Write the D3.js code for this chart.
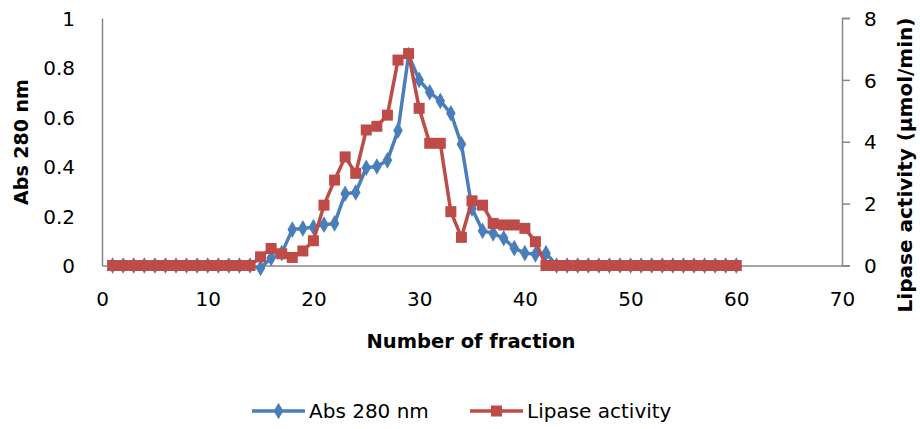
<!DOCTYPE html>
<html>
<head>
<meta charset="utf-8">
<script src="https://cdn.jsdelivr.net/npm/d3@7"></script>
<style>
  body { margin: 0; background: #fff; }
  text { font-family: "DejaVu Sans", sans-serif; fill: #000; }
</style>
</head>
<body>
<div id="chart"></div>
<script>
// Fracciones y series
const fractions = [1,2,3,4,5,6,7,8,9,10,11,12,13,14,15,16,17,18,19,20,
  21,22,23,24,25,26,27,28,29,30,31,32,33,34,35,36,37,38,39,40,
  41,42,43,44,45,46,47,48,49,50,51,52,53,54,55,56,57,58,59,60];

const abs280 = [0,0,0,0,0,0,0,0,0,0,0,0,0,0,-0.01,0.03,0.05,0.145,0.15,0.155,
  0.165,0.17,0.29,0.295,0.395,0.40,0.425,0.545,0.85,0.75,0.70,0.665,0.615,0.49,0.23,0.14,0.13,0.11,0.07,0.05,
  0.045,0.05,0,0,0,0,0,0,0,0,0,0,0,0,0,0,0,0,0,0];

const lipase = [0,0,0,0,0,0,0,0,0,0,0,0,0,0,0.28,0.55,0.38,0.26,0.47,0.8,
  1.95,2.76,3.51,2.98,4.38,4.5,4.86,6.64,6.85,5.08,3.95,3.95,1.74,0.91,2.09,1.95,1.36,1.31,1.31,1.2,
  0.77,0,0,0,0,0,0,0,0,0,0,0,0,0,0,0,0,0,0,0];

const xTicks = [0,10,20,30,40,50,60,70];
const yLeftTicks = [0,0.2,0.4,0.6,0.8,1];
const yRightTicks = [0,2,4,6,8];
const seriesNames = ["Abs 280 nm", "Lipase activity"];

const width = 920, height = 429;
const mLeft = 102, mRight = 842, mTop = 18, mBottom = 265.5;
const blue = "#4A7EBB", red = "#BE4B48", grey = "#868686";
const sq = 11, diamondArea = 80;

const x = d3.scaleLinear().domain([0, 70]).range([mLeft, mRight]);
const yL = d3.scaleLinear().domain([0, 1]).range([mBottom, mTop]);
const yR = d3.scaleLinear().domain([0, 8]).range([mBottom, mTop]);

const svg = d3.select("#chart").append("svg")
  .attr("width", width).attr("height", height);

// Ejes
const axL = svg.append("g").attr("transform", `translate(${mLeft},0)`)
  .call(d3.axisLeft(yL).tickValues(yLeftTicks).tickSize(0).tickPadding(27)
    .tickFormat(d => String(+d.toFixed(1))));
const axB = svg.append("g").attr("transform", `translate(0,${mBottom})`)
  .call(d3.axisBottom(x).tickValues(xTicks).tickSize(0).tickPadding(26));
const axR = svg.append("g").attr("transform", `translate(${mRight},0)`)
  .call(d3.axisRight(yR).tickValues(yRightTicks).tickSize(8).tickPadding(14));

[axL, axB, axR].forEach(g => {
  g.select(".domain").attr("stroke", grey).attr("stroke-width", 1.5);
  g.selectAll(".tick line").attr("stroke", grey).attr("stroke-width", 1.5);
  g.selectAll("text").attr("font-family", "DejaVu Sans").attr("font-size", 20).attr("fill", "#000");
});
axL.selectAll("text").attr("dy", "0.36em");
axR.selectAll("text").attr("dy", "0.36em");

// Series
const ptsA = fractions.map((f, i) => [f, abs280[i]]);
const ptsL = fractions.map((f, i) => [f, lipase[i]]);

svg.append("path").datum(ptsA)
  .attr("fill", "none").attr("stroke", blue).attr("stroke-width", 3.5)
  .attr("stroke-linejoin", "round")
  .attr("d", d3.line().x(d => x(d[0])).y(d => yL(d[1])));
svg.append("g").selectAll("path").data(ptsA).enter().append("path")
  .attr("d", d3.symbol(d3.symbolDiamond, diamondArea)())
  .attr("transform", d => `translate(${x(d[0])},${yL(d[1])})`)
  .attr("fill", blue);

svg.append("path").datum(ptsL)
  .attr("fill", "none").attr("stroke", red).attr("stroke-width", 3.5)
  .attr("stroke-linejoin", "round")
  .attr("d", d3.line().x(d => x(d[0])).y(d => yR(d[1])));
svg.append("g").selectAll("rect").data(ptsL).enter().append("rect")
  .attr("x", d => x(d[0]) - sq / 2).attr("y", d => yR(d[1]) - sq / 2)
  .attr("width", sq).attr("height", sq)
  .attr("fill", red);

// Titulos de ejes
svg.append("text")
  .attr("x", 471).attr("y", 348)
  .attr("text-anchor", "middle").attr("font-weight", "bold").attr("font-size", 19.5)
  .text("Number of fraction");

svg.append("text")
  .attr("transform", "translate(28,142) rotate(-90)")
  .attr("text-anchor", "middle").attr("font-weight", "bold").attr("font-size", 19)
  .text("Abs 280 nm");

svg.append("text")
  .attr("transform", "translate(912,165) rotate(-90)")
  .attr("text-anchor", "middle").attr("font-weight", "bold").attr("font-size", 20)
  .text("Lipase activity (µmol/min)");

// Leyenda
const legend = [
  {name: seriesNames[0], color: blue, x0: 252, sym: "diamond"},
  {name: seriesNames[1], color: red, x0: 470, sym: "square"}
];
legend.forEach(l => {
  const ly = 411;
  svg.append("line").attr("x1", l.x0).attr("x2", l.x0 + 53)
    .attr("y1", ly).attr("y2", ly).attr("stroke", l.color).attr("stroke-width", 3.5);
  if (l.sym === "diamond") {
    svg.append("path").attr("d", d3.symbol(d3.symbolDiamond, diamondArea)())
      .attr("transform", `translate(${l.x0 + 26.5},${ly})`).attr("fill", l.color);
  } else {
    svg.append("rect").attr("x", l.x0 + 26.5 - sq / 2).attr("y", ly - sq / 2)
      .attr("width", sq).attr("height", sq).attr("fill", l.color);
  }
  svg.append("text").attr("x", l.x0 + 57).attr("y", ly).attr("dy", "0.36em")
    .attr("font-size", 20).text(l.name);
});
</script>
</body>
</html>
